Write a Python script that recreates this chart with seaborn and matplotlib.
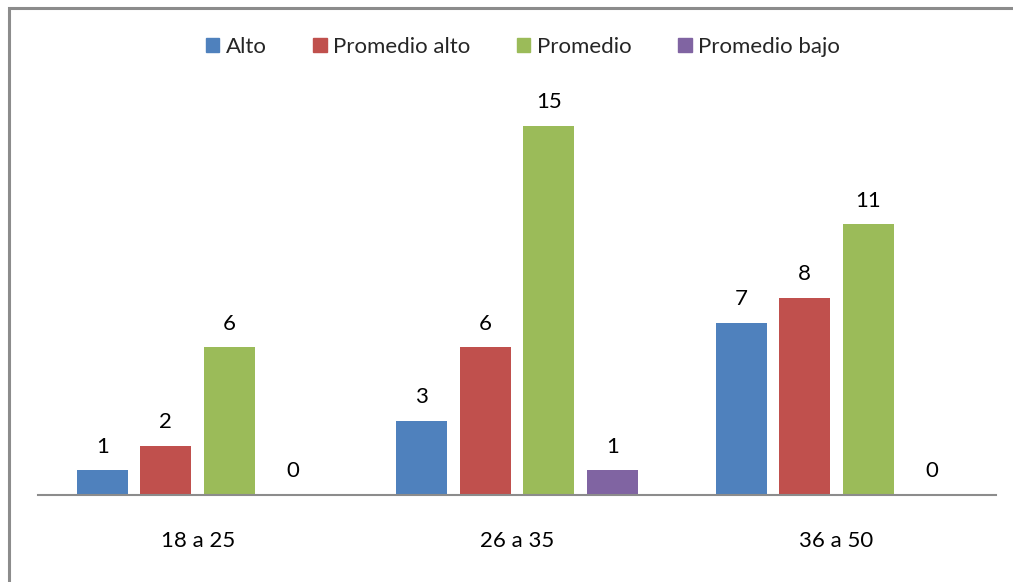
import matplotlib
matplotlib.use("Agg")
import matplotlib.pyplot as plt
import seaborn as sns
import pandas as pd
from matplotlib.patches import Rectangle

categories = ["18 a 25", "26 a 35", "36 a 50"]
series = ["Alto", "Promedio alto", "Promedio", "Promedio bajo"]
alto = [1, 3, 7]
promedio_alto = [2, 6, 8]
promedio = [6, 15, 11]
promedio_bajo = [0, 1, 0]
colors = ["#4F81BD", "#C0504D", "#9BBB59", "#8064A2"]

rows = []
for s, vals in zip(series, [alto, promedio_alto, promedio, promedio_bajo]):
    for c, v in zip(categories, vals):
        rows.append({"Edad": c, "Serie": s, "Valor": v})
df = pd.DataFrame(rows)

sns.set_theme(style="white")
plt.rcParams['font.family'] = ['Lato', 'DejaVu Sans']

fig = plt.figure(figsize=(10.13, 5.82), dpi=100)
ax = fig.add_axes([38/1013, 1-495/582, (996-38)/1013, (495-101.4)/582])

sns.barplot(data=df, x="Edad", y="Valor", hue="Serie", order=categories,
            hue_order=series, palette=colors, width=0.796, ax=ax,
            saturation=1, legend=False, edgecolor="none")

# shrink bars to leave gaps between them
for p in ax.patches:
    w = p.get_width()
    neww = 51/319.3
    p.set_x(p.get_x() + (w - neww)/2)
    p.set_width(neww)

FS = 16
for cont in ax.containers:
    ax.bar_label(cont, labels=[f"{int(v)}" for v in cont.datavalues],
                 padding=10, fontsize=FS, color="black")

ax.set_ylim(0, 16)
ax.set_xlim(-0.5, 2.5)
ax.set_xlabel("")
ax.set_ylabel("")
ax.set_yticks([])
ax.tick_params(axis='x', length=0, pad=26, labelsize=FS, colors="black")
for s in ["top", "right", "left"]:
    ax.spines[s].set_visible(False)
ax.spines["bottom"].set_color("#8C8C8C")
ax.spines["bottom"].set_linewidth(1.5)

handles = [Rectangle((0, 0), 1, 1, color=c) for c in colors]
fig.legend(handles, series, loc="center", bbox_to_anchor=(523/1013, 1-47/582),
           ncol=4, frameon=False, fontsize=FS, handlelength=0.6,
           handleheight=0.6, handletextpad=0.3, columnspacing=2.1)

fig.patches.append(Rectangle((9/1013, 1-1000/582), 1.2, (1000-8)/582,
                             transform=fig.transFigure, fill=False,
                             edgecolor="#8C8C8C", linewidth=2.2))

fig.savefig("out.png", dpi=100, facecolor="white")
